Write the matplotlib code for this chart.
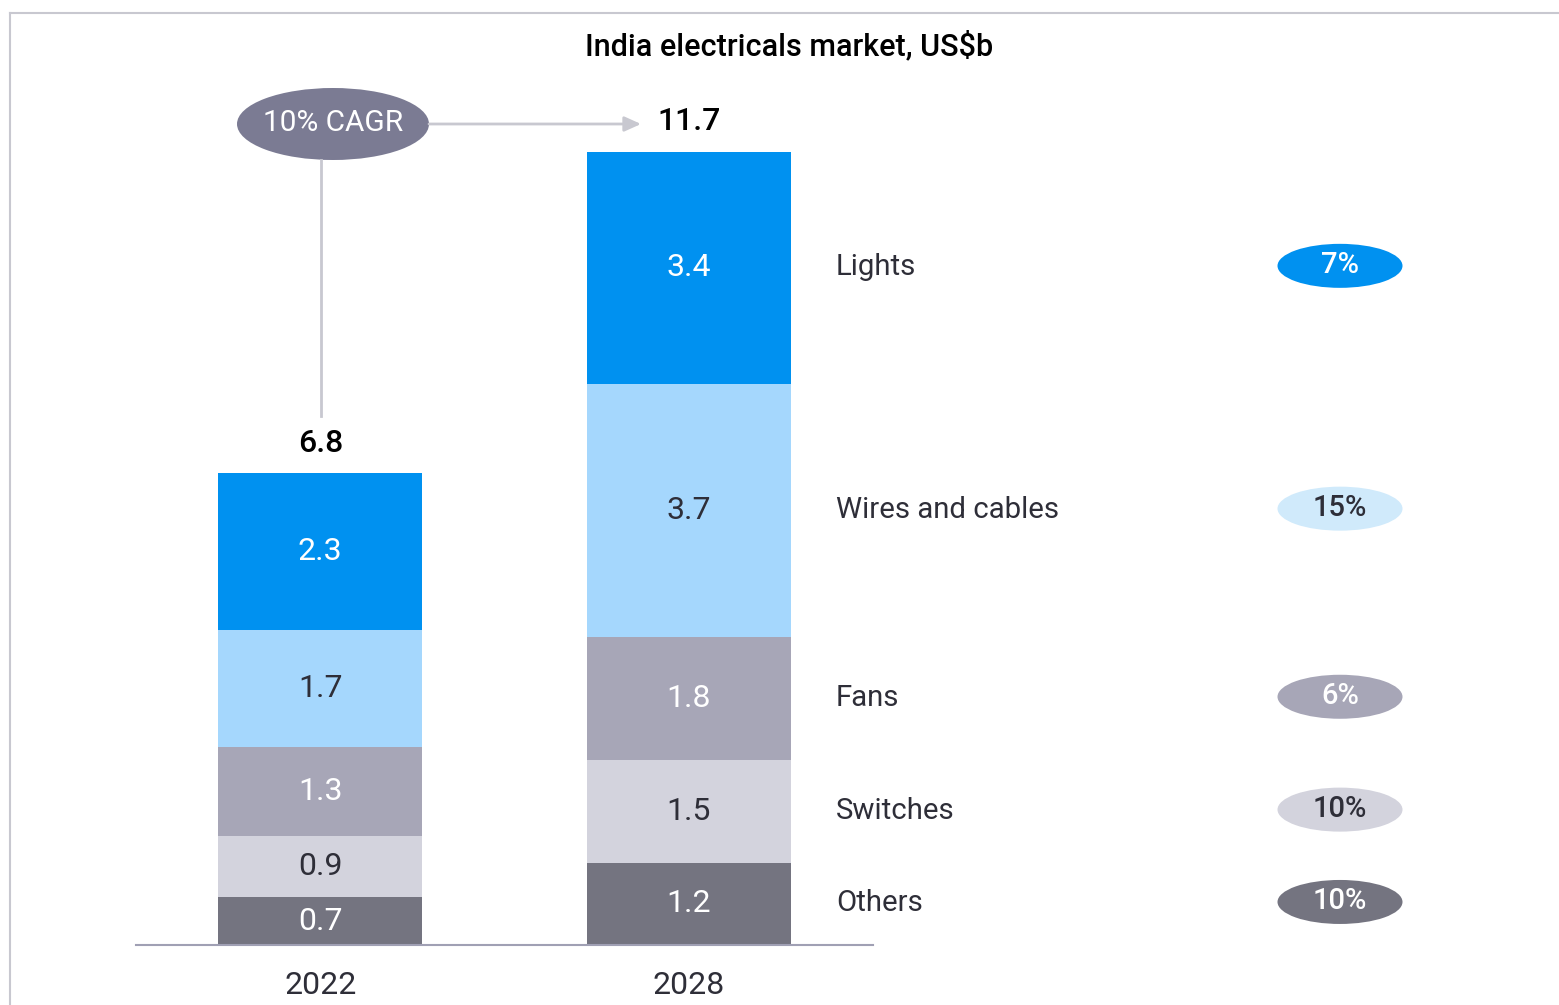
import matplotlib
matplotlib.use("Agg")
import matplotlib.pyplot as plt
from matplotlib.patches import Ellipse

plt.rcParams['font.family'] = ['Roboto', 'DejaVu Sans']

# ---- data ----
years = ["2022", "2028"]
categories = ["Others", "Switches", "Fans", "Wires and cables", "Lights"]
values_2022 = [0.7, 0.9, 1.3, 1.7, 2.3]
values_2028 = [1.2, 1.5, 1.8, 3.7, 3.4]
totals = [6.8, 11.7]
cagr_labels = ["10%", "10%", "6%", "15%", "7%"]
cagr_total = "10% CAGR"
title = "India electricals market, US$b"

bar_colors = ["#747480", "#D3D3DD", "#A7A6B7", "#A5D7FD", "#0091F0"]
text_colors = ["white", "#2E2E38", "white", "#2E2E38", "white"]
badge_colors = ["#747480", "#D3D3DD", "#A7A6B7", "#D0EAFB", "#0091F0"]
dark = "#2E2E38"

W, H = 1559, 1005
fig = plt.figure(figsize=(W / 100, H / 100), dpi=100)

# border decoration (behind)
deco = fig.add_axes([0, 0, 1, 1], zorder=-1)
deco.set_xlim(0, W)
deco.set_ylim(H, 0)
deco.axis("off")
deco.plot([10, W], [13, 13], color="#C8C8D0", lw=1.5)
deco.plot([10, 10], [13, H], color="#C8C8D0", lw=1.5)

# main bar axes
ax = fig.add_axes([136 / W, (H - 945) / H, (873 - 136) / W, (945 - 13) / H])
ax.patch.set_alpha(0)
ax.set_xlim(-0.5, 1.5)
ax.set_ylim(0, 932 / 68.4)
for s in ["top", "right", "left"]:
    ax.spines[s].set_visible(False)
ax.spines["bottom"].set_color("#A0A0B4")
ax.spines["bottom"].set_linewidth(1.5)
ax.set_yticks([])
ax.set_xticks([0, 1])
ax.set_xticklabels(years, fontsize=23, color=dark)
ax.tick_params(axis="x", length=0, pad=19)

series = [values_2022, values_2028]
bw = 0.554
for xi, vals in enumerate(series):
    bottom = 0
    for ci, v in enumerate(vals):
        ax.bar(xi, v, bottom=bottom, width=bw, color=bar_colors[ci], linewidth=0)
        ax.text(xi, bottom + v / 2, f"{v:.1f}", ha="center", va="center",
                fontsize=23, color=text_colors[ci])
        bottom += v
    ax.annotate(f"{totals[xi]:.1f}", (xi, bottom), xytext=(0, 11),
                textcoords="offset points", ha="center", va="bottom",
                fontsize=23, fontweight="medium", color="black")

deco2 = fig.add_axes([0, 0, 1, 1], zorder=2)
deco2.set_xlim(0, W)
deco2.set_ylim(H, 0)
deco2.axis("off")
deco2.text(789, 46, title, ha="center", va="center", fontsize=22,
           fontweight="medium", color="black")

# CAGR bubble and connectors
deco2.plot([321, 321], [160, 416], color="#C8C8D0", lw=2)
deco2.annotate("", xy=(641, 124), xytext=(429, 124),
               arrowprops=dict(arrowstyle="-|>,head_length=1.0,head_width=0.45",
                               color="#C8C8D0", lw=2, shrinkA=0, shrinkB=0))
deco2.add_patch(Ellipse((333, 124), 192, 72, color="#7B7B93", lw=0))
deco2.text(333, 123, cagr_total, ha="center", va="center", fontsize=21.5,
           color="white")

# right labels and badges, aligned with the 2028 segments
bottom = 0
for ci, v in enumerate(values_2028):
    mid = bottom + v / 2
    bottom += v
    ydisp = ax.transData.transform((0, mid))[1]
    ypix = H - ydisp
    deco2.text(836, ypix - 1, categories[ci], ha="left", va="center", fontsize=21.2,
               color=dark)
    deco2.add_patch(Ellipse((1340, ypix - 2), 125, 44, color=badge_colors[ci], lw=0))
    deco2.text(1340, ypix - 3, cagr_labels[ci], ha="center", va="center",
               fontsize=21, fontweight="medium", color=text_colors[ci])

fig.savefig("out.png", dpi=100)
